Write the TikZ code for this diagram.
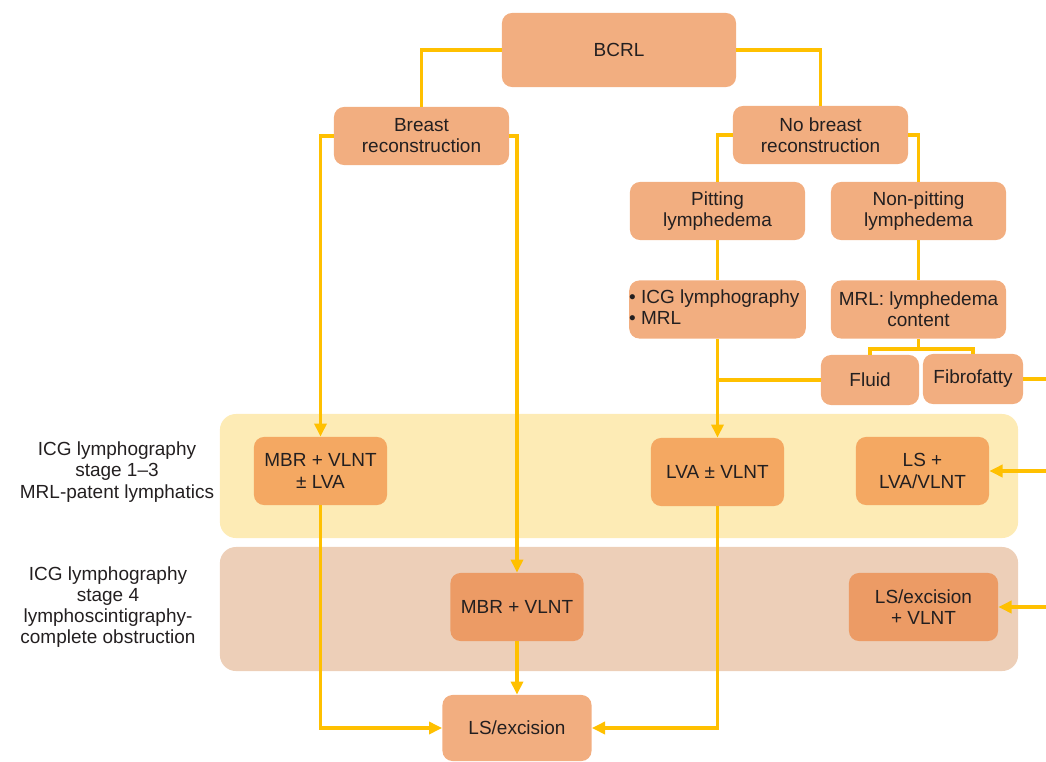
\documentclass[tikz,border=0pt]{standalone}
\usepackage{fontspec}
\setmainfont{Liberation Sans}
\usepackage{tikz}
\usetikzlibrary{arrows.meta}
\definecolor{boxlight}{HTML}{F2AE80}
\definecolor{boxstage}{HTML}{F4A862}
\definecolor{boxblock}{HTML}{EC9B65}
\definecolor{bandyellow}{HTML}{FDEBB5}
\definecolor{bandbrown}{HTML}{EDCFB8}
\definecolor{gold}{HTML}{FFC000}
\definecolor{ink}{HTML}{231F20}
\tikzstyle{decision} = [rectangle, rounded corners=0.25cm, minimum width=4.375cm, minimum height=1.45cm, inner sep=0pt, align=center, text=ink, fill=boxlight]
\tikzstyle{treatment} = [rectangle, rounded corners=0.25cm, minimum width=3.325cm, minimum height=1.7cm, inner sep=0pt, align=center, text=ink]
\tikzstyle{band} = [rectangle, rounded corners=0.4cm, minimum width=19.95cm, minimum height=3.1cm, inner sep=0pt]
\tikzstyle{stagelabel} = [align=center, text=ink]
\tikzstyle{line} = [gold, line width=2.4pt]
\tikzstyle{arrow} = [gold, line width=2.4pt, -{Triangle[length=3.3mm,width=3mm]}]

\begin{document}
\begin{tikzpicture}[x=0.025cm, y=-0.025cm, font=\fontsize{13.5}{15}\selectfont]
        \useasboundingbox (0,0) rectangle (1046,762);
        \clip (0,0) rectangle (1046,762);

        % Bands
        \node (patent) [band, fill=bandyellow] at (619,476) {};
        \node (obstructed) [band, fill=bandbrown] at (619,609) {};
        \node (patentlabel) [stagelabel] at (117,472) {ICG lymphography\\stage 1--3\\MRL-patent lymphatics};
        \node (obstructedlabel) [stagelabel] at (108,607) {ICG lymphography\\stage 4\\lymphoscintigraphy-\\complete obstruction};

        % Nodes
        \node (bcrl) [decision, minimum width=5.85cm, minimum height=1.85cm] at (619,50) {BCRL};
        \node (breast) [decision] at (421.5,136) {Breast\\reconstruction};
        \node (nobreast) [decision] at (820.5,135) {No breast\\reconstruction};
        \node (pitting) [decision] at (717.5,211) {Pitting\\lymphedema};
        \node (nonpitting) [decision] at (918.5,211) {Non-pitting\\lymphedema};
        \node (imaging) [decision, align=left] at (717.5,309.5) {• ICG lymphography\\• MRL\phantom{ lymphography}};
        \node (content) [decision] at (918.5,309.5) {MRL: lymphedema\\content};
        \node (fluid) [decision, minimum width=2.45cm, minimum height=1.25cm] at (870,380) {Fluid};
        \node (fibro) [decision, minimum width=2.5cm, minimum height=1.25cm] at (973,379) {Fibrofatty};
        \node (mbrlva) [treatment, fill=boxstage] at (320.5,471) {MBR + VLNT\\± LVA};
        \node (lvavlnt) [treatment, fill=boxstage] at (717.5,472) {LVA ± VLNT};
        \node (lslva) [treatment, fill=boxstage] at (922.5,471) {LS +\\LVA/VLNT};
        \node (mbrvlnt) [treatment, fill=boxblock] at (517,607) {MBR + VLNT};
        \node (lsvlnt) [treatment, fill=boxblock, minimum width=3.725cm] at (923.5,607) {LS/excision\\+ VLNT};
        \node (lsexcision) [treatment, fill=boxlight, minimum width=3.725cm, minimum height=1.65cm] at (517,728) {LS/excision};
        \coordinate (split) at (918.5,349);
        \coordinate (rail) at (1070,379);

        % Arrows
        \draw [line] (bcrl.west) -| (breast.north);
        \draw [line] (bcrl.east) -| (nobreast.north);
        \draw [arrow] (breast.west) -| (mbrlva.north);
        \draw [arrow] (breast.east) -| (mbrvlnt.north);
        \draw [line] (nobreast.west) -| (pitting.north);
        \draw [line] (nobreast.east) -| (nonpitting.north);
        \draw [line] (pitting) -- (imaging);
        \draw [line] (nonpitting) -- (content);
        \draw [arrow] (imaging) -- (lvavlnt);
        \draw [line] (fluid.west) -- (fluid.west -| imaging.south);
        \draw [line] (content.south) -- (split);
        \draw [line] (fluid.north) |- (split) -| (fibro.north);
        \draw [line] (fibro.east) -- (rail);
        \draw [arrow] (rail) |- (lslva.east);
        \draw [arrow] (rail) |- (lsvlnt.east);
        \draw [arrow] (mbrlva.south) |- (lsexcision.west);
        \draw [arrow] (lvavlnt.south) |- (lsexcision.east);
        \draw [arrow] (mbrvlnt) -- (lsexcision);
    \end{tikzpicture}
\end{document}
